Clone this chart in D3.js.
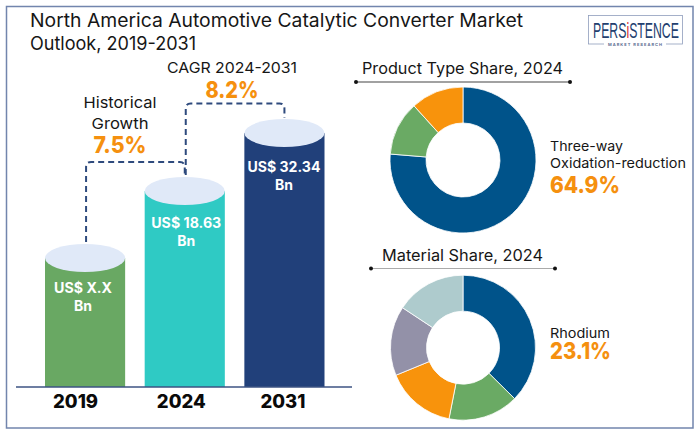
<!DOCTYPE html>
<html>
<head>
<meta charset="utf-8">
<script src="https://cdn.jsdelivr.net/npm/d3@7"></script>
<style>
  html, body { margin: 0; padding: 0; background: #fff; }
  svg { display: block; }
  text { font-family: Inter, "Open Sans", sans-serif; fill: #161616; }
</style>
</head>
<body>
<div id="visualization"></div>
<script>
const years = ['2019', '2024', '2031'];
const marketValues = [13.0, 18.63, 32.34];
const barLabels = ['US$ X.X', 'US$ 18.63', 'US$ 32.34'];
const barColors = ['#69a863', '#2fcac4', '#21407a'];

const productTypes = ['Three-way Oxidation-reduction', 'Other A', 'Other B'];
const productShares = [76.3, 12.0, 11.7];
const productColors = ['#00538a', '#6aaa64', '#f8930c'];

const materials = ['Rhodium', 'Other A', 'Other B', 'Other C', 'Other D'];
const materialShares = [37.4, 15.7, 15.7, 15.5, 15.7];
const materialColors = ['#00538a', '#6aaa64', '#f8930c', '#9391a8', '#aecbcd'];

const width = 700;
const height = 435;
const axisY = 387;
const capRy = 14;
const orange = '#f5900f';
const dashBlue = '#2e4a7d';

const svg = d3.select('#visualization').append('svg')
  .attr('width', width)
  .attr('height', height);

svg.append('rect')
  .attr('x', 6.5).attr('y', 6.5)
  .attr('width', 686.5).attr('height', 421.5)
  .attr('fill', '#fff')
  .attr('stroke', '#7285ad')
  .attr('stroke-width', 1.5);

function label(txt, x, y, size, opts = {}) {
  const t = svg.append('text')
    .attr('x', x).attr('y', y)
    .attr('font-size', size)
    .attr('font-weight', opts.weight || 400)
    .attr('text-anchor', opts.anchor || 'start')
    .text(txt);
  if (opts.color) t.style('fill', opts.color);
  if (opts.fit) t.attr('textLength', opts.fit).attr('lengthAdjust', 'spacingAndGlyphs');
  return t;
}

label('North America Automotive Catalytic Converter Market', 30, 27, 18.5, { fit: 493 });
label('Outlook, 2019-2031', 30, 49.5, 18.5, { fit: 166 });

// bars
const x = d3.scaleBand().domain(years).range([45, 324.5]).paddingInner(0.196);
// picture is not drawn to a zero based scale, so the scale has to bend
const y = d3.scaleLinear().domain([0, 13.0, 18.63, 32.34]).range([axisY, 258, 191, 133]);

const textDrop = { 2019: 35, 2024: 37, 2031: 39 };
const textShift = { 2019: -2, 2024: 1.5, 2031: -0.5 };
const textFit = { 2019: 58, 2024: 70, 2031: 73 };

const bars = svg.append('g').selectAll('g')
  .data(years.map((year, i) => ({ year, value: marketValues[i], color: barColors[i], text: barLabels[i] })))
  .join('g');

bars.append('rect')
  .attr('x', (d) => x(d.year))
  .attr('y', (d) => y(d.value))
  .attr('width', x.bandwidth())
  .attr('height', (d) => axisY - y(d.value))
  .attr('fill', (d) => d.color);

bars.append('ellipse')
  .attr('cx', (d) => x(d.year) + x.bandwidth() / 2)
  .attr('cy', (d) => y(d.value))
  .attr('rx', x.bandwidth() / 2)
  .attr('ry', capRy)
  .attr('fill', '#e0e9f8');

bars.append('text')
  .attr('x', (d) => x(d.year) + x.bandwidth() / 2 + textShift[d.year])
  .attr('y', (d) => y(d.value) + textDrop[d.year])
  .attr('text-anchor', 'middle')
  .attr('font-size', 14)
  .attr('font-weight', 700)
  .attr('textLength', (d) => textFit[d.year])
  .attr('lengthAdjust', 'spacingAndGlyphs')
  .style('fill', '#fff')
  .text((d) => d.text);

bars.append('text')
  .attr('x', (d) => x(d.year) + x.bandwidth() / 2 + textShift[d.year])
  .attr('y', (d) => y(d.value) + textDrop[d.year] + 18)
  .attr('text-anchor', 'middle')
  .attr('font-size', 14)
  .attr('font-weight', 700)
  .style('fill', '#fff')
  .text('Bn');

// axis
svg.append('line')
  .attr('x1', 16).attr('x2', 352)
  .attr('y1', axisY).attr('y2', axisY)
  .attr('stroke', '#3d5383')
  .attr('stroke-width', 1.6);

const tickNudge = { 2019: -9.5, 2024: -3.5, 2031: -1.5 };
const axis = svg.append('g')
  .attr('transform', `translate(0,${axisY})`)
  .call(d3.axisBottom(x).tickSize(0).tickPadding(8));
axis.select('.domain').remove();
axis.selectAll('.tick text')
  .attr('dx', (d) => tickNudge[d])
  .attr('font-size', 18.5)
  .attr('font-weight', 800)
  .style('font-family', 'Inter, sans-serif')
  .style('fill', '#0a0a0a');

// dashed connectors between the bars
function connector(from, to, topY) {
  const x0 = x(from) + x.bandwidth() / 2 + 1;
  const x1 = x(to) + x.bandwidth() / 2;
  const p = d3.path();
  p.moveTo(x0, y(marketValues[years.indexOf(from)]) - capRy - 2);
  p.lineTo(x0, topY + 5);
  p.quadraticCurveTo(x0, topY, x0 + 5, topY);
  p.lineTo(x1 - 5, topY);
  p.quadraticCurveTo(x1, topY, x1, topY + 5);
  p.lineTo(x1, y(marketValues[years.indexOf(to)]) - capRy - 1);
  return p.toString();
}

svg.append('path')
  .attr('d', connector('2019', '2024', 162))
  .attr('fill', 'none')
  .attr('stroke', dashBlue)
  .attr('stroke-width', 2)
  .attr('stroke-dasharray', '6 4');

svg.append('path')
  .attr('d', connector('2024', '2031', 103.5))
  .attr('fill', 'none')
  .attr('stroke', dashBlue)
  .attr('stroke-width', 2)
  .attr('stroke-dasharray', '6 4');

label('CAGR 2024-2031', 232, 72.5, 15, { anchor: 'middle', fit: 130 });
label('8.2%', 232, 98, 23, { anchor: 'middle', weight: 800, color: orange, fit: 53 });
label('Historical', 120, 108, 15, { anchor: 'middle', fit: 73 });
label('Growth', 120, 129, 15, { anchor: 'middle', fit: 57 });
label('7.5%', 120, 152.5, 23, { anchor: 'middle', weight: 800, color: orange, fit: 53 });

// donuts
function donut(names, shares, colors, cx, cy, outer, inner) {
  const pie = d3.pie().sort(null).value((d) => d.share);
  const arc = d3.arc().innerRadius(inner).outerRadius(outer);
  svg.append('g')
    .attr('transform', `translate(${cx},${cy})`)
    .selectAll('path')
    .data(pie(names.map((name, i) => ({ name, share: shares[i], color: colors[i] }))))
    .join('path')
    .attr('d', arc)
    .attr('fill', (d) => d.data.color)
    .attr('stroke', '#fff')
    .attr('stroke-width', 0.8);
}

function ruledTitle(txt, cx, y0, x0, x1, fit, lineColor) {
  label(txt, cx, y0, 16, { anchor: 'middle', fit });
  svg.append('line')
    .attr('x1', x0).attr('x2', x1)
    .attr('y1', y0 + 8).attr('y2', y0 + 8)
    .attr('stroke', lineColor)
    .attr('stroke-width', 1.2);
  svg.selectAll(null)
    .data([x0, x1])
    .enter().append('circle')
    .attr('cx', (d) => d)
    .attr('cy', y0 + 8)
    .attr('r', 2)
    .attr('fill', '#111');
}

ruledTitle('Product Type Share, 2024', 462.5, 74, 356, 570, 201, '#444');
donut(productTypes, productShares, productColors, 463, 160, 73, 37);
label('Three-way', 550, 150.5, 13.5, { fit: 73 });
label('Oxidation-reduction', 550, 167.5, 13.5, { fit: 136 });
label('64.9%', 550, 192.5, 23, { weight: 800, color: orange, fit: 70 });

ruledTitle('Material Share, 2024', 462.5, 260.5, 371, 555, 161, '#aaa');
donut(materials, materialShares, materialColors, 463, 347.7, 72.5, 36.5);
label('Rhodium', 550, 337.5, 13.5, { fit: 60 });
label('23.1%', 550, 359, 23, { weight: 800, color: orange, fit: 61 });

// logo
const logo = svg.append('g');
logo.append('rect')
  .attr('x', 588.5).attr('y', 15.5)
  .attr('width', 94).attr('height', 28.5)
  .attr('fill', 'none')
  .attr('stroke', '#8f9dbc')
  .attr('stroke-width', 0.8);
const logoWord = logo.append('g');
const logoText = logoWord.append('text')
  .attr('font-size', 23)
  .style('font-family', '"Liberation Sans Narrow", sans-serif')
  .style('fill', '#23406f');
logoText.append('tspan').text('PERS');
logoText.append('tspan').style('fill', '#d8262c').text('i');
logoText.append('tspan').text('STENCE');
// squeeze the whole word into the box
const logoScale = 86 / logoText.node().getComputedTextLength();
logoWord.attr('transform', `translate(593,38) scale(${logoScale},1)`);
logo.append('rect')
  .attr('x', 604).attr('y', 41).attr('width', 62).attr('height', 6).attr('fill', '#fff');
logo.append('text')
  .attr('x', 635).attr('y', 46)
  .attr('text-anchor', 'middle')
  .attr('font-size', 4)
  .attr('font-weight', 700)
  .attr('textLength', 54)
  .style('fill', '#5a6b8f')
  .text('MARKET RESEARCH');
</script>
</body>
</html>
